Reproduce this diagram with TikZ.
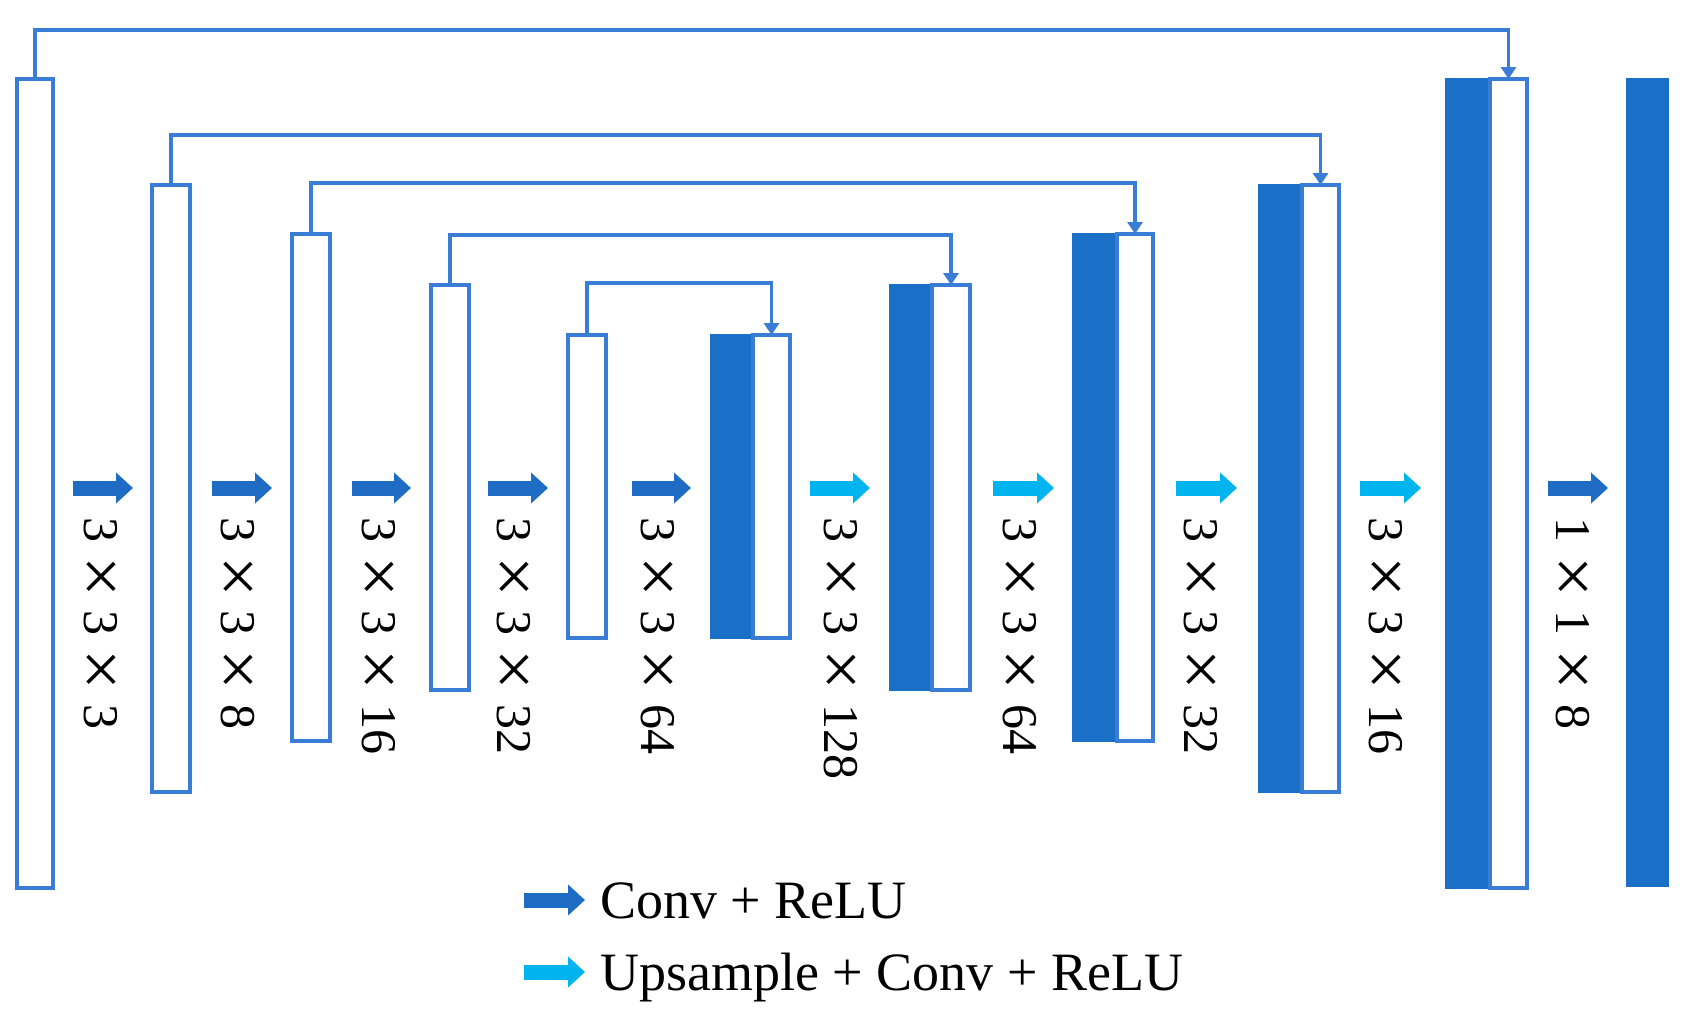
\documentclass[tikz,border=0pt]{standalone}
\usepackage{fontspec}
\setmainfont{Liberation Serif}
\usetikzlibrary{arrows.meta}
\definecolor{fillblue}{HTML}{1A6FC6}
\definecolor{lineblue}{HTML}{3A7DD6}
\definecolor{cyanarr}{HTML}{00B4F0}
\definecolor{convblue}{HTML}{1E6CC4}
\newcommand{\mx}{\hspace{14pt}\raisebox{-7pt}{\fontsize{72}{72}\selectfont ×}\hspace{14pt}}
\begin{document}
\begin{tikzpicture}[x=1pt,y=-1pt,
  enc/.style={draw=lineblue, line width=3.5pt, fill=white, inner sep=0pt, outer sep=0pt, anchor=north west},
  dfill/.style={draw=fillblue, line width=2pt, fill=fillblue, inner sep=0pt, outer sep=0pt, anchor=north west},
  skip/.style={draw=lineblue, line width=3.5pt, -{Triangle[length=12pt,width=15pt]}},
  convarr/.style={draw=convblue, line width=15pt, -{Triangle[length=17pt,width=30pt]}},
  uparr/.style={draw=cyanarr, line width=15pt, -{Triangle[length=17pt,width=30pt]}},
  lab/.style={rotate=-90, anchor=west, inner sep=0pt, font=\fontsize{50}{60}\selectfont},
  legtext/.style={anchor=base west, inner sep=0pt, font=\fontsize{54}{64}\selectfont}]
\useasboundingbox (0,0) rectangle (1688,1028);
% encoder blocks
\node[enc, minimum width=36, minimum height=809] (e1) at (17,79) {};
\node[enc, minimum width=38, minimum height=607] (e2) at (152,185) {};
\node[enc, minimum width=38, minimum height=507] (e3) at (292,234) {};
\node[enc, minimum width=38, minimum height=405] (e4) at (431,285) {};
\node[enc, minimum width=38, minimum height=303] (e5) at (568,335) {};
% decoder blocks
\node[dfill, minimum width=42, minimum height=303] (d6f) at (711,335) {};
\node[enc,   minimum width=37, minimum height=303] (d6w) at (753,335) {};
\node[dfill, minimum width=42, minimum height=405] (d7f) at (890,285) {};
\node[enc,   minimum width=38, minimum height=405] (d7w) at (932,285) {};
\node[dfill, minimum width=44, minimum height=507] (d8f) at (1073,234) {};
\node[enc,   minimum width=36, minimum height=507] (d8w) at (1117,234) {};
\node[dfill, minimum width=43, minimum height=607] (d9f) at (1259,185) {};
\node[enc,   minimum width=37, minimum height=607] (d9w) at (1302,185) {};
\node[dfill, minimum width=44, minimum height=809] (d10f) at (1446,79) {};
\node[enc,   minimum width=37, minimum height=809] (d10w) at (1490,79) {};
\node[dfill, minimum width=41, minimum height=807] (out) at (1627,79) {};
% skip connections
\draw[skip] (e1.north) -- ++(0,-49) -| (d10w.north);
\draw[skip] (e2.north) -- ++(0,-50) -| (d9w.north);
\draw[skip] (e3.north) -- ++(0,-51) -| (d8w.north);
\draw[skip] (e4.north) -- ++(0,-50) -| (d7w.north);
\draw[skip] (e5.north) -- ++(0,-52) -| (d6w.north);
% operation arrows
\coordinate (a1s) at (73,488);   \coordinate (a1e) at (133,488);
\coordinate (a2s) at (212,488);  \coordinate (a2e) at (272,488);
\coordinate (a3s) at (352,488);  \coordinate (a3e) at (411,488);
\coordinate (a4s) at (488,488);  \coordinate (a4e) at (548,488);
\coordinate (a5s) at (632,488);  \coordinate (a5e) at (691,488);
\coordinate (a6s) at (810,488);  \coordinate (a6e) at (870,488);
\coordinate (a7s) at (993,488);  \coordinate (a7e) at (1054,488);
\coordinate (a8s) at (1176,488); \coordinate (a8e) at (1237,488);
\coordinate (a9s) at (1360,488); \coordinate (a9e) at (1421,488);
\coordinate (a10s) at (1548,488); \coordinate (a10e) at (1608,488);
\draw[convarr] (a1s) -- (a1e);
\draw[convarr] (a2s) -- (a2e);
\draw[convarr] (a3s) -- (a3e);
\draw[convarr] (a4s) -- (a4e);
\draw[convarr] (a5s) -- (a5e);
\draw[uparr] (a6s) -- (a6e);
\draw[uparr] (a7s) -- (a7e);
\draw[uparr] (a8s) -- (a8e);
\draw[uparr] (a9s) -- (a9e);
\draw[convarr] (a10s) -- (a10e);
% kernel labels
\node[lab] (l1) at (98,517) {3\mx 3\mx 3};
\node[lab] (l2) at (235,517) {3\mx 3\mx 8};
\node[lab] (l3) at (376,517) {3\mx 3\mx 16};
\node[lab] (l4) at (511,517) {3\mx 3\mx 32};
\node[lab] (l5) at (655,517) {3\mx 3\mx 64};
\node[lab] (l6) at (838,517) {3\mx 3\mx 128};
\node[lab] (l7) at (1017,517) {3\mx 3\mx 64};
\node[lab] (l8) at (1198,517) {3\mx 3\mx 32};
\node[lab] (l9) at (1383,517) {3\mx 3\mx 16};
\node[lab] (l10) at (1570,517) {1\mx 1\mx 8};
% legend
\coordinate (g1s) at (524,900); \coordinate (g1e) at (585,900);
\coordinate (g2s) at (524,972); \coordinate (g2e) at (585,972);
\draw[convarr] (g1s) -- (g1e);
\draw[uparr] (g2s) -- (g2e);
\node[legtext] (t1) at (600,918) {Conv + ReLU};
\node[legtext] (t2) at (600,990) {Upsample + Conv + ReLU};
\end{tikzpicture}
\end{document}
